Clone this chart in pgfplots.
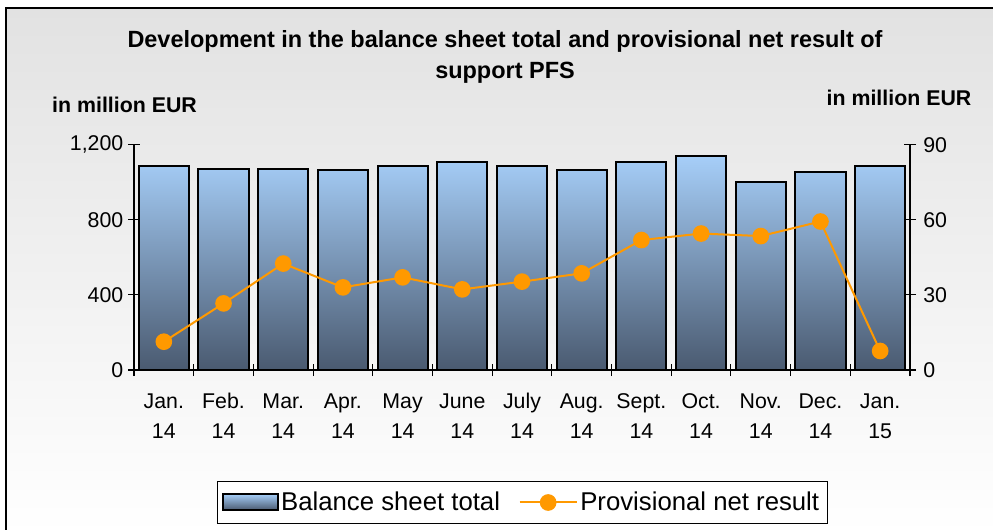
\documentclass[border=0pt]{standalone}
\usepackage{pgfplots}
\pgfplotsset{compat=1.18}
\usepackage{fontspec}
\setmainfont{Liberation Sans}
\definecolor{barTop}{HTML}{A6CEF8}
\definecolor{barMid}{HTML}{84A1C4}
\definecolor{barBot}{HTML}{4A5A70}
\definecolor{lineOr}{HTML}{FF9900}
\definecolor{bgTop}{HTML}{E2E2E2}
\newcommand{\tl}[2]{\rule{0pt}{12pt}#1\\#2}
\pgfplotsset{
  mylineleg/.style={legend image code/.code={\draw[mark repeat=2,mark phase=2,##1] plot coordinates {(0cm,0cm) (0.75cm,0cm) (1.5cm,0cm)};}},
  mybarleg/.style={legend image code/.code={\draw[draw=black, line width=1pt, top color=barTop, bottom color=barBot] (0cm,-0.2cm) rectangle (1.45cm,0.22cm);}},
}
\begin{document}
\begin{tikzpicture}
\useasboundingbox (0pt,0pt) rectangle (744.75pt,396.75pt);
\shade[top color=bgTop, bottom color=white] (4.5pt,-4pt) rectangle (746pt,390.75pt);
\draw[line width=1.5pt] (4.5pt,-4pt) -- (4.5pt,390.75pt) -- (746pt,390.75pt);
\node[font=\bfseries\fontsize{17.6}{20}\selectfont] at (378.75pt,366pt) {Development in the balance sheet total and provisional net result of};
\node[font=\bfseries\fontsize{17.6}{20}\selectfont] at (378.75pt,342pt) {support PFS};
\node[font=\bfseries\fontsize{16}{19}\selectfont] at (93.4pt,318pt) {in million EUR};
\node[font=\bfseries\fontsize{16}{19}\selectfont] at (674.25pt,323.25pt) {in million EUR};

\begin{axis}[
  at={(100.5pt,119.25pt)}, anchor=south west,
  scale only axis, width=582pt, height=169pt,
  xmin=-0.5, xmax=12.5, ymin=0, ymax=1200,
  axis y line*=left, axis x line*=bottom,
  ybar, bar width=0.84,
  xtick={0,...,12},
  xticklabels={{\tl{Jan.}{14}},{\tl{Feb.}{14}},{\tl{Mar.}{14}},{\tl{Apr.}{14}},{\tl{May}{14}},{\tl{June}{14}},{\tl{July}{14}},{\tl{Aug.}{14}},{\tl{Sept.}{14}},{\tl{Oct.}{14}},{\tl{Nov.}{14}},{\tl{Dec.}{14}},{\tl{Jan.}{15}}},
  major x tick style={draw=none},
  minor xtick={-0.5,0.5,...,12.5},
  ytick={0,400,800,1200},
  tick align=center,
  major tick length=9pt, minor tick length=9pt,
  /pgf/number format/1000 sep={,},
  /pgf/number format/assume math mode=true,
  tick label style={font=\fontsize{16}{19}\selectfont},
  xticklabel style={align=center, font=\fontsize{16}{22.5}\selectfont, anchor=north, yshift=-9pt},
  axis line style={black, line width=0.8pt},
  tick style={black, line width=0.8pt},
  clip=false,
]
\addplot[draw=black, line width=1.5pt, top color=barTop, middle color=barMid, bottom color=barBot] coordinates {
(0,1086) (1,1072) (2,1072) (3,1063) (4,1086) (5,1106) (6,1086) (7,1063) (8,1106) (9,1138) (10,1000) (11,1053) (12,1085)};
\end{axis}

\begin{axis}[
  at={(100.5pt,119.25pt)}, anchor=south west,
  scale only axis, width=582pt, height=169pt,
  xmin=-0.5, xmax=12.5, ymin=0, ymax=90,
  axis y line*=right, axis x line=none,
  ytick={0,30,60,90},
  tick align=center,
  major tick length=9pt,
  /pgf/number format/assume math mode=true,
  tick label style={font=\fontsize{16}{19}\selectfont},
  yticklabel style={xshift=2pt},
  axis line style={black, line width=0.8pt},
  tick style={black, line width=0.8pt},
  clip=false,
  legend columns=2,
  legend style={at={(0.5,-0.588)}, anchor=center, draw=black, fill=white,
    font=\fontsize{19.3}{22}\selectfont, inner xsep=4pt, inner ysep=6pt,
    /tikz/every even column/.append style={column sep=12pt}},
]
\addlegendimage{mybarleg}
\addlegendentry{Balance sheet total}
\addplot[lineOr, line width=1.5pt, mark=*, mark size=5.5pt, mark options={fill=lineOr, draw=lineOr}, mylineleg] coordinates {
(0,11.3) (1,26.6) (2,42.5) (3,33.0) (4,37.0) (5,32.2) (6,35.3) (7,38.6) (8,51.9) (9,54.5) (10,53.5) (11,59.3) (12,7.6)};
\addlegendentry{Provisional net result}
\end{axis}
\end{tikzpicture}
\end{document}
